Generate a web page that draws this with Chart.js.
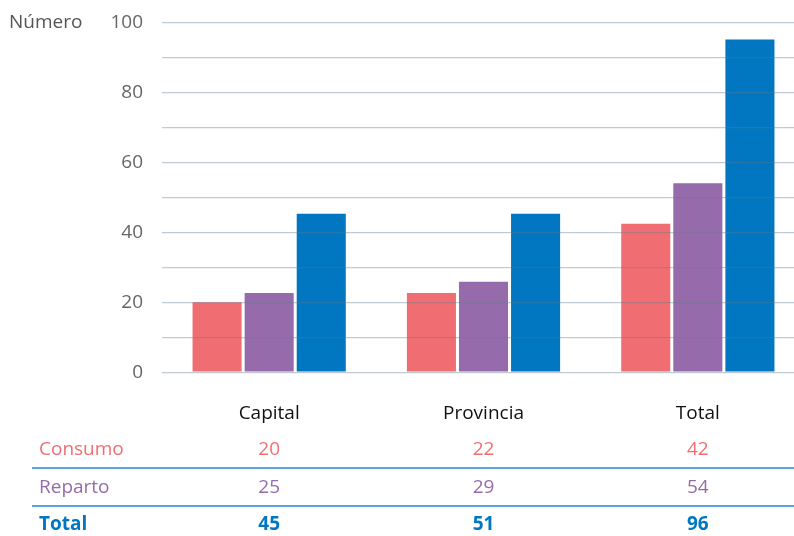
<!DOCTYPE html>
<html>
<head>
<meta charset="utf-8">
<script src="https://cdn.jsdelivr.net/npm/chart.js@4/dist/chart.umd.min.js"></script>
<style>
  html, body { margin: 0; padding: 0; background: #fff; overflow: hidden; }
  #wrap { width: 805px; height: 536px; }
</style>
</head>
<body>
<div id="wrap"><canvas id="chart" width="805" height="536"></canvas></div>
<script>
// categories and series (bar heights)
const categories = ['Capital', 'Provincia', 'Total'];
const consumoBars = [20, 22.7, 42.5];
const repartoBars = [22.7, 25.9, 54.1];
const totalBars = [45.4, 45.4, 95.3];

// figures printed in the table under the chart
const rowLabels = ['Consumo', 'Reparto', 'Total'];
const consumoRow = ['20', '22', '42'];
const repartoRow = ['25', '29', '54'];
const totalRow = ['45', '51', '96'];

const yTicks = [0, 20, 40, 60, 80, 100];

const RED = '#f06e72';
const PURPLE = '#966bab';
const BLUE = '#0077c0';
const FONT = "'Open Sans', sans-serif";

const tablePlugin = {
    id: 'tablePlugin',
    afterDraw(chart) {
        const ctx = chart.ctx;
        const x = chart.scales.x;
        ctx.save();

        // axis title
        ctx.font = `19px ${FONT}`;
        ctx.fillStyle = '#555';
        ctx.textAlign = 'left';
        ctx.textBaseline = 'middle';
        ctx.fillText('Número', 9, 23);

        const rows = [
            { label: rowLabels[0], vals: consumoRow, color: RED, bold: false, y: 450 },
            { label: rowLabels[1], vals: repartoRow, color: PURPLE, bold: false, y: 488 },
            { label: rowLabels[2], vals: totalRow, color: BLUE, bold: true, y: 525 },
        ];
        rows.forEach(r => {
            ctx.font = `${r.bold ? 'bold ' : ''}19px ${FONT}`;
            ctx.fillStyle = r.color;
            ctx.textAlign = 'left';
            ctx.fillText(r.label, 39, r.y);
            ctx.textAlign = 'center';
            r.vals.forEach((v, i) => ctx.fillText(v, x.getPixelForValue(i), r.y));
        });

        ctx.strokeStyle = '#2288d0';
        ctx.lineWidth = 1.4;
        [468, 506].forEach(y => {
            ctx.beginPath();
            ctx.moveTo(32, y);
            ctx.lineTo(805, y);
            ctx.stroke();
        });
        ctx.restore();
    }
};

new Chart(document.getElementById('chart'), {
    type: 'bar',
    data: {
        labels: categories,
        datasets: [
            { label: 'Consumo', data: consumoBars, backgroundColor: RED },
            { label: 'Reparto', data: repartoBars, backgroundColor: PURPLE },
            { label: 'Total', data: totalBars, backgroundColor: BLUE },
        ]
    },
    options: {
        responsive: false,
        animation: false,
        events: [],
        layout: { padding: { top: 0, right: 0, bottom: 81, left: 0 } },
        datasets: { bar: { categoryPercentage: 0.729, barPercentage: 0.942 } },
        plugins: {
            legend: { display: false },
            tooltip: { enabled: false },
        },
        scales: {
            x: {
                border: { display: false },
                grid: { display: false, drawTicks: false },
                ticks: { color: '#111', font: { family: FONT, size: 19 }, padding: 30 },
            },
            y: {
                min: 0,
                max: 100,
                border: { display: false },
                afterFit(scale) { scale.width = 162; },
                grid: { color: 'rgba(100,120,140,0.4)', lineWidth: 1.3, drawTicks: false, z: 1 },
                ticks: {
                    stepSize: 10,
                    autoSkip: false,
                    color: '#666',
                    font: { family: FONT, size: 19, lineHeight: 0.42 },
                    padding: 19,
                    callback: v => yTicks.includes(v) ? v : '',
                },
            }
        }
    },
    plugins: [tablePlugin]
});
</script>
</body>
</html>
